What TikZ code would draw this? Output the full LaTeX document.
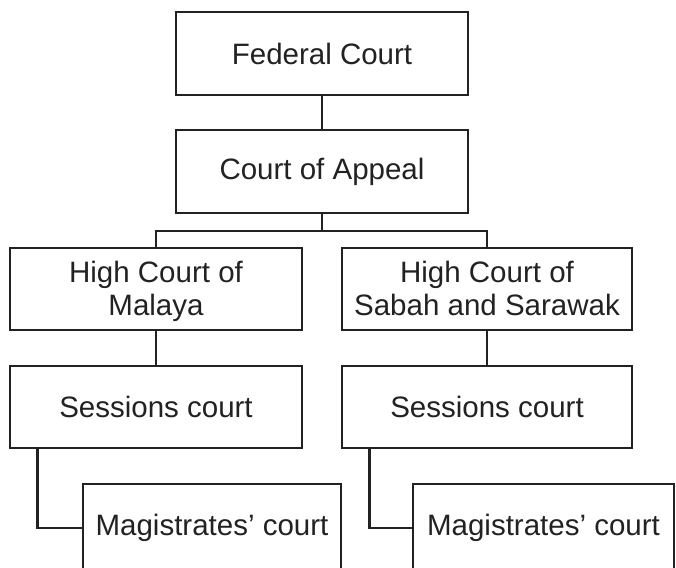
\documentclass[tikz,border=0pt]{standalone}
\usepackage{fontspec}
\setmainfont{Liberation Sans}
\definecolor{ink}{HTML}{222222}
\newcommand{\topstrut}{\rule{0pt}{29.5pt}}
\tikzset{
  court/.style={draw=ink, line width=2.8pt, rectangle, align=center, text=ink,
    inner sep=0pt, font=\fontsize{29.5}{33}\selectfont},
  link/.style={draw=ink, line width=2.8pt}
}
\begin{document}
\begin{tikzpicture}[x=1pt,y=-1pt]
\useasboundingbox (0,0) rectangle (676,567);
\clip (0,0) rectangle (676,567);
\fill[white] (0,0) rectangle (676,567);
\node[court, minimum width=292pt, minimum height=83pt] (fed) at (322,53.5) {Federal Court};
\node[court, minimum width=292pt, minimum height=83pt] (app) at (322,171.5) {Court of Appeal};
\node[court, minimum width=292pt, minimum height=82pt] (hcm) at (156,289) {\topstrut High Court of\\Malaya\strut};
\node[court, minimum width=290pt, minimum height=82pt] (hcs) at (487,289) {\topstrut High Court of\\Sabah and Sarawak\strut};
\node[court, minimum width=292pt, minimum height=82pt] (sesl) at (156,407) {Sessions court};
\node[court, minimum width=290pt, minimum height=82pt] (sesr) at (487,407) {Sessions court};
\node[court, minimum width=258pt, minimum height=88pt] (magl) at (212,528) {Magistrates’ court};
\node[court, minimum width=261pt, minimum height=88pt] (magr) at (543.5,528) {Magistrates’ court};
\coordinate (j) at (322,231);
\draw[link] (fed) -- (app);
\draw[link] (app) -- (j);
\draw[link] (hcm.north) |- (j) -| (hcs.north);
\draw[link] (hcm) -- (sesl);
\draw[link] (hcs) -- (sesr);
\draw[link] ([xshift=29pt]sesl.south west) |- (magl.west);
\draw[link] ([xshift=29pt]sesr.south west) |- (magr.west);
\end{tikzpicture}
\end{document}
